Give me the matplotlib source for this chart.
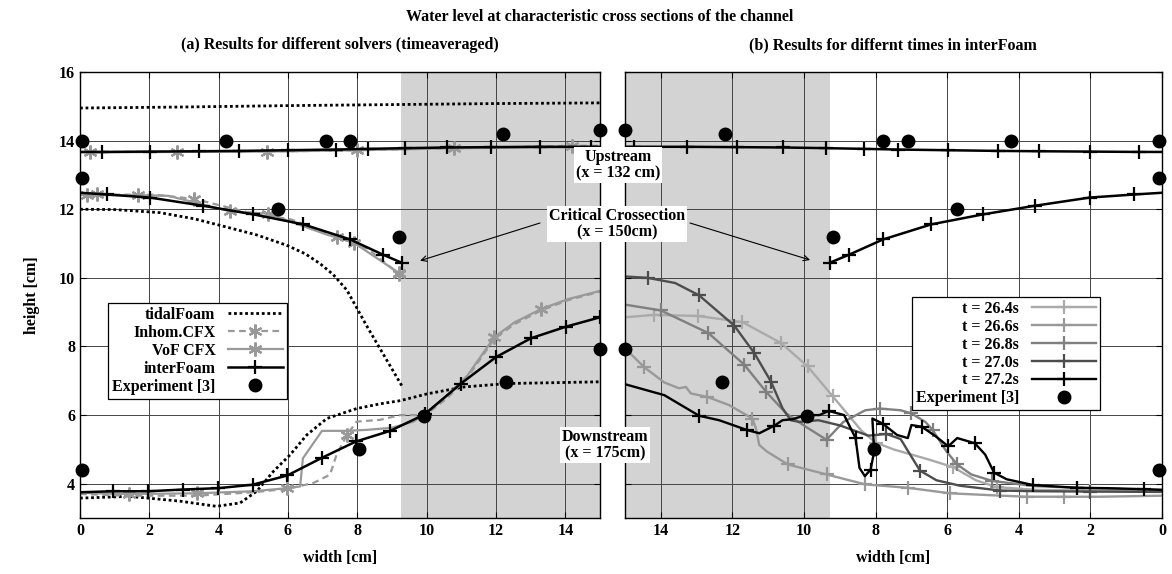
import matplotlib
matplotlib.use('Agg')
import matplotlib.pyplot as plt

plt.rcParams['font.family'] = ['Liberation Serif', 'DejaVu Serif']
plt.rcParams['font.weight'] = 'bold'
plt.rcParams['axes.labelweight'] = 'bold'

# ---------------- data ----------------
# experiment [3], same points in both panels
exp_up_x = [0.07, 4.22, 7.1, 7.8, 12.2, 15.0]
exp_up_y = [14.0, 14.0, 14.0, 14.0, 14.2, 14.3]
exp_crit_x = [0.07, 5.72, 9.2]
exp_crit_y = [12.9, 12.0, 11.2]
exp_down_x = [0.07, 8.05, 9.93, 12.3, 15.0]
exp_down_y = [4.4, 5.0, 5.97, 6.97, 7.92]

# interFoam (time averaged) upstream / critical
if_up_x = [0, 0.63, 2.02, 3.44, 4.59, 5.99, 7.38, 8.32, 9.38, 10.58, 11.86, 13.26, 14.74, 15]
if_up_y = [13.67, 13.67, 13.68, 13.69, 13.7, 13.72, 13.74, 13.76, 13.78, 13.8, 13.81, 13.82, 13.82, 13.82]
if_crit_x = [0, 0.77, 2.02, 3.56, 5.0, 6.44, 7.79, 8.73, 9.28]
if_crit_y = [12.48, 12.43, 12.34, 12.1, 11.85, 11.56, 11.12, 10.68, 10.44]
if_down_x = [0, 0.96, 1.97, 2.98, 3.99, 4.98, 5.98, 6.99, 7.96, 8.95, 9.94, 10.99, 12.0, 13.01, 14.03, 15.0]
if_down_y = [3.75, 3.78, 3.78, 3.83, 3.87, 3.97, 4.24, 4.76, 5.23, 5.54, 6.02, 6.92, 7.69, 8.24, 8.58, 8.85]

# tidalFoam
tf_up_x = [0, 3, 6, 9, 12, 15]
tf_up_y = [14.95, 14.98, 15.02, 15.05, 15.08, 15.1]
tf_crit_x = [0, 1.0, 2.31, 3.3, 4.23, 5.1, 5.96, 6.5, 6.93, 7.3, 7.7, 8.27, 8.85, 9.28]
tf_crit_y = [12.0, 11.99, 11.9, 11.72, 11.48, 11.25, 10.95, 10.7, 10.41, 10.1, 9.64, 8.6, 7.6, 6.86]
tf_down_x = [0, 1.44, 2.89, 3.94, 4.62, 5.1, 5.58, 6.06, 6.54, 7.12, 7.98, 8.67, 9.24, 10.02, 11.08, 12.34, 13.98, 15]
tf_down_y = [3.58, 3.63, 3.49, 3.34, 3.44, 3.78, 4.36, 4.84, 5.42, 5.9, 6.19, 6.33, 6.42, 6.62, 6.82, 6.92, 6.95, 6.97]

# VoF CFX
vof_up_x = [0, 0.3, 2.8, 5.4, 8.0, 10.8, 13.4, 15]
vof_up_y = [13.66, 13.66, 13.67, 13.68, 13.72, 13.78, 13.8, 13.81]
vof_crit_x = [0, 0.19, 1.68, 2.55, 4.33, 5.43, 7.12, 7.89, 9.19]
vof_crit_y = [12.42, 12.41, 12.41, 12.39, 11.94, 11.87, 11.26, 11.03, 10.15]
vof_down_x = [0, 1.4, 3.37, 5.0, 5.98, 6.35, 6.43, 6.98, 7.7, 8.28, 9.0, 9.62, 9.96, 10.6, 11.18, 11.95, 12.53, 13.3, 14.08, 15.0]
vof_down_y = [3.73, 3.7, 3.72, 3.78, 3.87, 3.92, 4.74, 5.54, 5.54, 5.57, 5.63, 5.81, 6.05, 6.58, 7.16, 8.27, 8.7, 9.09, 9.38, 9.62]

# Inhom. CFX
inh_up_x = [0, 1.5, 4.0, 7.0, 9.5, 12.0, 14.2, 15]
inh_up_y = [13.67, 13.67, 13.68, 13.7, 13.75, 13.8, 13.85, 13.85]
inh_crit_x = [0, 0.5, 2.2, 3.3, 4.8, 6.1, 7.4, 8.3, 9.19]
inh_crit_y = [12.43, 12.43, 12.42, 12.3, 11.92, 11.7, 11.2, 10.85, 10.12]
inh_down_x = [0, 1.4, 3.37, 5.0, 5.98, 6.73, 7.21, 7.4, 7.7, 7.98, 8.65, 9.24, 9.96, 10.6, 11.18, 11.95, 12.53, 13.3, 14.08, 15]
inh_down_y = [3.7, 3.65, 3.65, 3.75, 3.85, 4.02, 4.26, 4.84, 5.42, 5.81, 5.86, 6.0, 6.0, 6.5, 7.1, 8.22, 8.65, 9.05, 9.35, 9.6]

# interFoam at different times, downstream
t264_x = [15, 14.2, 12.97, 11.72, 10.64, 9.9, 9.2, 8.8, 8.4, 8.0, 7.5, 7.0, 6.5, 5.83, 5.2, 4.62, 3.5, 2.0, 0]
t264_y = [8.85, 8.92, 8.89, 8.71, 8.1, 7.42, 6.55, 6.05, 5.55, 5.2, 5.0, 4.85, 4.7, 4.48, 4.1, 3.9, 3.82, 3.8, 3.78]
t266_x = [15, 14.47, 13.9, 13.49, 13.3, 13.16, 12.7, 12.09, 11.44, 11.34, 11.25, 11.04, 10.45, 9.37, 8.29, 7.1, 5.92, 4.7, 3.77, 2.75, 1.72, 0]
t266_y = [7.95, 7.4, 6.95, 6.78, 6.82, 6.63, 6.53, 6.29, 5.9, 5.6, 5.13, 4.94, 4.56, 4.27, 3.98, 3.88, 3.72, 3.66, 3.62, 3.62, 3.62, 3.65]
t268_x = [15, 14.0, 12.67, 11.67, 11.06, 10.5, 9.95, 9.37, 8.9, 8.29, 7.89, 7.3, 7.0, 6.61, 6.41, 6.02, 5.72, 5.33, 4.74, 3.56, 2.37, 0.6, 0]
t268_y = [9.22, 9.05, 8.39, 7.47, 6.68, 6.05, 5.66, 5.28, 5.8, 6.14, 6.19, 6.14, 6.05, 5.8, 5.57, 4.94, 4.56, 4.27, 4.08, 3.93, 3.88, 3.83, 3.82]
t270_x = [15, 14.37, 13.6, 12.93, 11.95, 11.39, 10.92, 10.6, 10.37, 10.13, 9.6, 9.0, 8.6, 8.2, 7.7, 7.3, 6.76, 6.3, 5.64, 4.52, 3.5, 2.0, 0]
t270_y = [10.04, 10.0, 9.85, 9.49, 8.61, 7.81, 6.97, 6.2, 5.85, 5.8, 5.85, 5.7, 5.55, 5.4, 5.45, 5.3, 4.38, 4.1, 3.94, 3.8, 3.78, 3.77, 3.76]
t272_x = [15, 13.9, 12.93, 12.37, 11.58, 11.25, 10.83, 10.6, 10.32, 9.95, 9.57, 9.31, 8.88, 8.56, 8.45, 8.3, 8.14, 8.04, 8.09, 7.8, 7.4, 7.1, 7.0, 6.71,
          6.32, 5.97, 5.72, 5.23, 4.94, 4.69, 4.34, 3.6, 2.37, 1.54, 0.5, 0]
t272_y = [6.9, 6.58, 5.98, 5.85, 5.56, 5.47, 5.69, 5.85, 5.88, 6.0, 6.0, 6.12, 6.0, 5.33, 4.46, 4.22, 4.41, 4.94, 5.9, 5.75, 5.42, 5.33, 5.71, 5.66,
          5.38, 5.09, 5.33, 5.18, 4.85, 4.32, 4.13, 3.96, 3.88, 3.87, 3.84, 3.82]

times = ['t = 26.4s', 't = 26.6s', 't = 26.8s', 't = 27.0s', 't = 27.2s']
t_colors = ['#aaaaaa', '#999999', '#808080', '#4d4d4d', '#000000']

shade_from = 9.27

# ---------------- figure ----------------
W, H = 1172, 574
fig = plt.figure(figsize=(W / 100, H / 100), dpi=100)
bot, top = 518, 72
ax1 = fig.add_axes([80 / W, 1 - bot / H, 520 / W, (bot - top) / H])
ax2 = fig.add_axes([625 / W, 1 - bot / H, 537 / W, (bot - top) / H])

GREY = '#999999'
dotted = (0, (1, 1))
star = (6, 2, 0)

for ax in (ax1, ax2):
    ax.set_ylim(3, 16)
    ax.set_yticks(range(4, 17, 2))
    ax.set_xticks(range(0, 15, 2))
    ax.grid(True, color='#444444', lw=0.7)
    ax.set_axisbelow(True)
    ax.tick_params(direction='in', length=4, top=True, right=True, labelsize=11.5)
    ax.axvspan(shade_from, 15, color='#d3d3d3', lw=0, zorder=0)
    ax.set_xlabel('width [cm]', fontsize=11.5, labelpad=8)
    for s in ax.spines.values():
        s.set_linewidth(1.0)

ax1.set_xlim(0, 15)
ax2.set_xlim(15, 0)
ax2.tick_params(labelleft=False)
ax1.set_ylabel('height [cm]', fontsize=11.5, labelpad=14)

# ---- left panel ----
kw_if = dict(color='black', lw=1.8, marker='+', ms=10, mew=1.6)
kw_vof = dict(color=GREY, lw=1.6, marker=star, ms=10, mew=1.6)
kw_inh = dict(color=GREY, lw=1.6, ls=(0, (3, 2)), marker=star, ms=10, mew=1.6)
kw_tf = dict(color='black', lw=2.0, ls=dotted)

ax1.plot(tf_up_x, tf_up_y, **kw_tf)
ax1.plot(tf_crit_x, tf_crit_y, **kw_tf)
ax1.plot(tf_down_x, tf_down_y, **kw_tf, label='tidalFoam')

ax1.plot(inh_up_x, inh_up_y, markevery=[6], **kw_inh)
ax1.plot(inh_crit_x, inh_crit_y, markevery=[1, 3, 6, 8], **kw_inh)
ax1.plot(inh_down_x, inh_down_y, markevery=[8], **kw_inh, label='Inhom.CFX')

ax1.plot(vof_up_x, vof_up_y, markevery=[1, 2, 3, 4, 5], **kw_vof)
ax1.plot(vof_crit_x, vof_crit_y, markevery=[1, 2, 4, 5, 7, 8], **kw_vof)
ax1.plot(vof_down_x, vof_down_y, markevery=[1, 2, 4, 15, 17], **kw_vof, label='VoF CFX')

ax1.plot(if_up_x, if_up_y, markevery=slice(1, -1), **kw_if)
ax1.plot(if_crit_x, if_crit_y, markevery=slice(1, None), **kw_if)
ax1.plot(if_down_x, if_down_y, markevery=slice(1, None), **kw_if, label='interFoam')

kw_exp = dict(color='black', marker='o', ms=9, ls='none', zorder=5, clip_on=False)
for ax in (ax1, ax2):
    ax.plot(exp_up_x, exp_up_y, **kw_exp)
    ax.plot(exp_crit_x, exp_crit_y, **kw_exp)
ax1.plot(exp_down_x, exp_down_y, **kw_exp, label='Experiment [3]')

leg1 = ax1.legend(loc='upper left', bbox_to_anchor=(0.054, 0.482), borderaxespad=0,
                  markerfirst=False, fancybox=False, framealpha=1, edgecolor='black',
                  fontsize=11.5, handlelength=3.4, labelspacing=0.12, borderpad=0.25,
                  handletextpad=0.8)
leg1.get_frame().set_linewidth(0.9)

# ---- right panel ----
ax2.plot(if_up_x, if_up_y, markevery=slice(1, -1), **kw_if)
ax2.plot(if_crit_x, if_crit_y, markevery=slice(1, None), **kw_if)

t_data = [(t264_x, t264_y, [1, 2, 3, 4, 5, 6, 9, 13, 15, 17]),
          (t266_x, t266_y, [1, 6, 8, 12, 13, 14, 15, 16, 18, 19]),
          (t268_x, t268_y, [1, 2, 3, 4, 7, 10, 12, 14, 16, 18, 20]),
          (t270_x, t270_y, [1, 3, 4, 5, 6, 14, 16, 19, 21]),
          (t272_x, t272_y, [2, 4, 6, 11, 13, 16, 19, 23, 25, 27, 29, 31, 32, 34])]
for (tx, ty, mk), lab, c in zip(t_data, times, t_colors):
    ax2.plot(tx, ty, color=c, lw=1.7, marker='+', ms=10, mew=1.6, markevery=mk, label=lab)
ax2.plot(exp_down_x, exp_down_y, **kw_exp, label='Experiment [3]')

leg2 = ax2.legend(loc='upper left', bbox_to_anchor=(0.534, 0.496), borderaxespad=0,
                  markerfirst=False, fancybox=False, framealpha=1, edgecolor='black',
                  fontsize=11.5, handlelength=4.0, labelspacing=0.12, borderpad=0.25,
                  handletextpad=0.8)
leg2.get_frame().set_linewidth(0.9)

# ---- titles ----
fig.text(600 / W, 1 - 17 / H, 'Water level at characteristic cross sections of the channel',
         ha='center', va='center', fontsize=11.5)
fig.text(340 / W, 1 - 45 / H, '(a) Results for different solvers (timeaveraged)',
         ha='center', va='center', fontsize=11.5)
fig.text(893 / W, 1 - 45 / H, '(b) Results for differnt times in interFoam',
         ha='center', va='center', fontsize=11.5)

# ---- section labels in the gap ----
box = dict(facecolor='white', edgecolor='none', pad=1.5)
fig.text(618 / W, 1 - 165 / H, 'Upstream\n(x = 132 cm)', ha='center', va='center',
         fontsize=11.5, linespacing=1.0, bbox=box, zorder=10)
fig.text(617 / W, 1 - 224 / H, 'Critical Crossection\n(x = 150cm)', ha='center', va='center',
         fontsize=11.5, linespacing=1.0, bbox=box, zorder=10)
fig.text(605 / W, 1 - 445 / H, 'Downstream\n(x = 175cm)', ha='center', va='center',
         fontsize=11.5, linespacing=1.0, bbox=box, zorder=10)

arrow = dict(arrowstyle='->', lw=0.8, color='black', shrinkA=0, shrinkB=0)
ax1.annotate('', xy=(9.81, 10.5), xytext=(540, H - 223), textcoords='figure pixels',
             arrowprops=arrow, annotation_clip=False)
ax2.annotate('', xy=(9.83, 10.52), xytext=(690, H - 223), textcoords='figure pixels',
             arrowprops=arrow, annotation_clip=False)

fig.savefig('out.png', dpi=100)
